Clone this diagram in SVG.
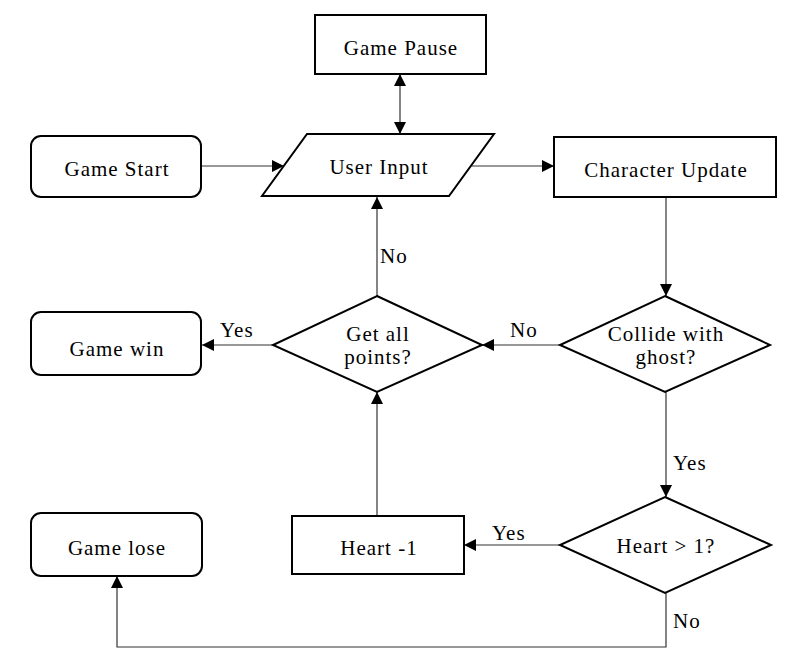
<svg xmlns="http://www.w3.org/2000/svg" width="805" height="666" viewBox="0 0 805 666" font-family="Liberation Serif, Times New Roman, DejaVu Serif, serif" font-size="21">
<defs>
<marker id="ah" viewBox="0 0 12 12" refX="12" refY="6" markerWidth="12" markerHeight="12" markerUnits="userSpaceOnUse" orient="auto-start-reverse">
<path d="M0,0 L12,6 L0,12 Z" fill="#000"/>
</marker>
</defs>
<style>
text{letter-spacing:1px}
.n{fill:#fff;stroke:#000;stroke-width:2}
.t{text-anchor:middle}
.c{fill:none;stroke:#333;stroke-width:1.2;marker-end:url(#ah)}
</style>
<rect width="805" height="666" fill="#fff"/>
<g id="connectors">
<path class="c" d="M201,166 L284,166"/>
<path class="c" d="M472,166 L554,166"/>
<path class="c" d="M400,74 L400,134" style="marker-start:url(#ah)"/>
<path class="c" d="M666,197 L666,296"/>
<path class="c" d="M560,345 L482,345"/>
<path class="c" d="M273,345 L202,345"/>
<path class="c" d="M377,296 L377,197"/>
<path class="c" d="M666,392 L666,497"/>
<path class="c" d="M560,545 L464,545"/>
<path class="c" d="M377,516 L377,392"/>
<path class="c" d="M666,593 L666,647 L117,647 L117,576"/>
<text x="380" y="263">No</text>
<text x="220" y="337">Yes</text>
<text x="510" y="337">No</text>
<text x="673" y="470">Yes</text>
<text x="492" y="540">Yes</text>
<text x="673" y="628">No</text>
</g>
<g id="game-pause">
<rect class="n" x="315" y="15" width="171" height="59"/>
<text class="t" x="401" y="55">Game Pause</text>
</g>
<g id="game-start">
<rect class="n" x="31" y="136" width="170" height="61" rx="10"/>
<text class="t" x="117" y="176">Game Start</text>
</g>
<g id="user-input">
<polygon class="n" points="307,134 494,134 449,196 262,196"/>
<text class="t" x="379" y="174">User Input</text>
</g>
<g id="character-update">
<rect class="n" x="554" y="137" width="222" height="60"/>
<text class="t" x="666" y="177">Character Update</text>
</g>
<g id="get-all-points">
<polygon class="n" points="377,296 482,345 377,392 273,345"/>
<text class="t" x="378" y="341">Get all</text>
<text class="t" x="378" y="364">points?</text>
</g>
<g id="collide">
<polygon class="n" points="665,296 770,345 665,392 560,345"/>
<text class="t" x="666" y="341">Collide with</text>
<text class="t" x="666" y="364">ghost?</text>
</g>
<g id="game-win">
<rect class="n" x="31" y="312" width="170" height="63" rx="10"/>
<text class="t" x="117" y="356">Game win</text>
</g>
<g id="heart-check">
<polygon class="n" points="665,497 771,545 665,593 560,545"/>
<text class="t" x="666" y="553">Heart &gt; 1?</text>
</g>
<g id="heart-minus">
<rect class="n" x="292" y="516" width="172" height="58"/>
<text class="t" x="379" y="555">Heart -1</text>
</g>
<g id="game-lose">
<rect class="n" x="31" y="513" width="171" height="63" rx="10"/>
<text class="t" x="117" y="555">Game lose</text>
</g>
</svg>
